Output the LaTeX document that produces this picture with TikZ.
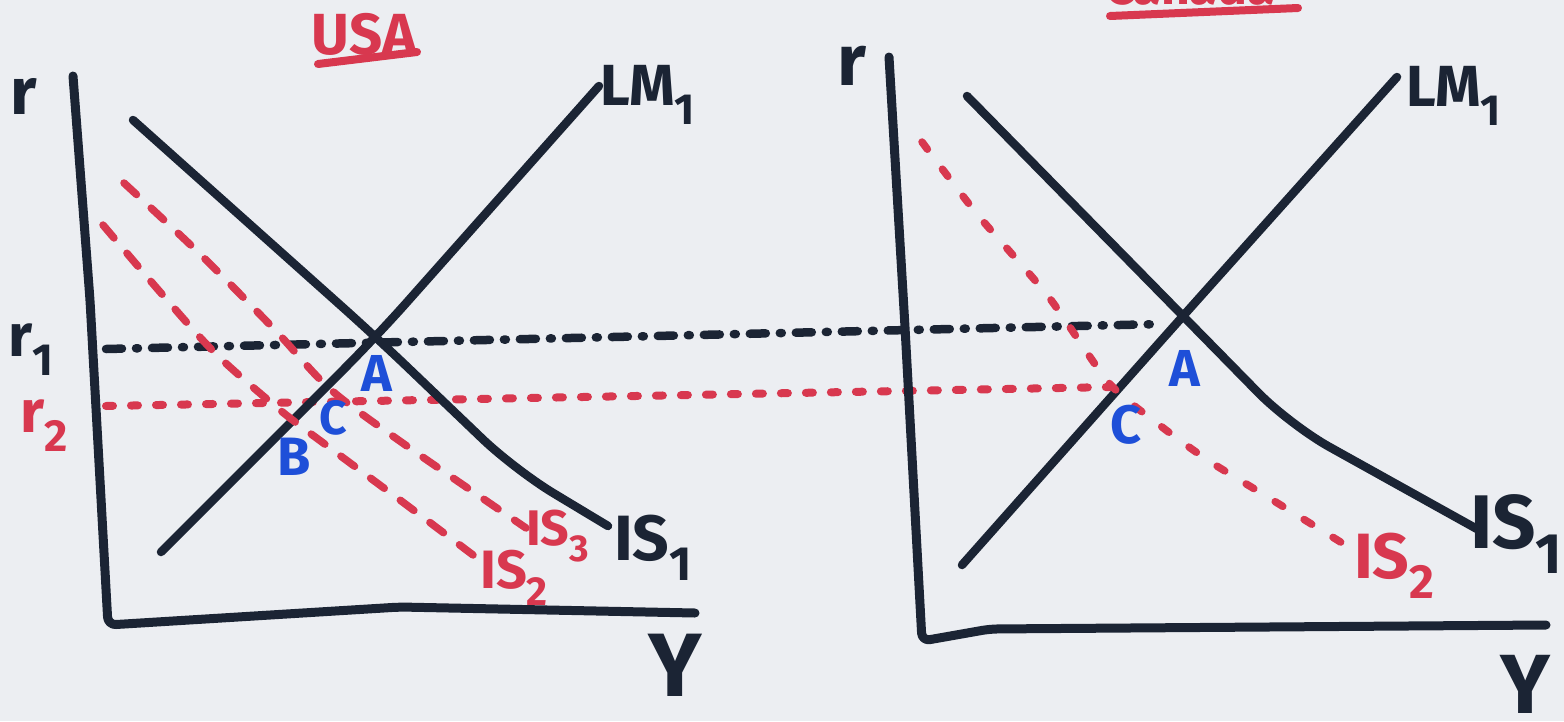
\documentclass[tikz,border=0pt]{standalone}
\usepackage{fontspec}
\setmainfont{Fira Sans}
\definecolor{ink}{HTML}{1B2434}
\definecolor{redink}{HTML}{D8384F}
\definecolor{blueink}{HTML}{1E4FD8}
\definecolor{paper}{HTML}{ECEEF2}
\newcommand\lsub[1]{\raisebox{-0.32em}{\scalebox{0.75}{#1}}}
\tikzset{
  lbl/.style={font=\fontsize{#1}{#1}\selectfont\bfseries, inner sep=0pt},
  axisline/.style={draw=ink, line width=9pt, line cap=round, line join=round, rounded corners=8pt},
  curveline/.style={draw=ink, line width=8.5pt, line cap=round, line join=round, rounded corners=45pt},
  rdash/.style={draw=redink, line width=7.5pt, line cap=round, dash pattern=on 17pt off 20pt},
  rdot/.style={draw=redink, line width=8pt, line cap=round, dash pattern=on 7pt off 18pt},
  rdashsmall/.style={draw=redink, line width=7.5pt, line cap=round, dash pattern=on 9pt off 25pt},
  bdash/.style={draw=ink, line width=8.5pt, line cap=round, dash pattern=on 16pt off 14pt on 2pt off 14pt},
  uline/.style={draw=redink, line width=8pt, line cap=round},
}
\begin{document}
\begin{tikzpicture}[x=1pt,y=-1pt]
\useasboundingbox (0,0) rectangle (1564,721);
\fill[paper] (0,0) rectangle (1564,721);
\begin{scope}
\clip (0,0) rectangle (1564,721);

% ---------- key coordinates ----------
\coordinate (AL) at (376,337);
\coordinate (AR) at (1183,316);
\coordinate (r1s) at (106,349);
\coordinate (r1e) at (1162,324);
\coordinate (r2s) at (106,406);
\coordinate (r2e) at (1112,387);

% ---------- horizontal interest-rate lines ----------
\draw[bdash] (r1s) -- (r1e);
\draw[rdot] (r2s) -- (r2e);

% ---------- left panel ----------
\draw[axisline] (73,76) -- (90,300) -- (108,625) -- (400,607) -- (695,613);
\draw[curveline] (161,552) -- (AL) -- (599,86);
\draw[curveline] (133,120) -- (AL) -- (515,470) -- (608,526);
\draw[rdash] plot[smooth, tension=0.5] coordinates {(124,183) (200,254) (275,330) (330,389) (404,444) (526,528)};
\draw[rdash] plot[smooth, tension=0.5] coordinates {(103,225) (161,293) (216,354) (280,410) (330,448) (404,503) (477,558)};

\node[lbl=66, ink] (rL) at (24,96) {r};
\node[lbl=60, ink] (r1L) at (31,350) {r\lsub{1}};
\node[lbl=60, redink] (r2L) at (44,426) {r\lsub{2}};
\node[lbl=58, ink, anchor=west] (LM1L) at (600,95) {LM\lsub{1}};
\node[lbl=64, ink, anchor=west] (IS1L) at (614,548) {IS\lsub{1}};
\node[lbl=50, redink, anchor=west] (IS3L) at (526,536) {IS\lsub{3}};
\node[lbl=54, redink, anchor=west] (IS2L) at (480,578) {IS\lsub{2}};
\node[lbl=52, blueink] (AlabL) at (377,373) {A};
\node[lbl=54, blueink] (BlabL) at (294,457) {B};
\node[lbl=48, blueink] (ClabL) at (333,418) {C};
\node[lbl=90, ink] (YL) at (675,665) {Y};
\node[lbl=58, redink] (usa) at (364,34) {USA};
\draw[uline] (318,64) -- (417,52);

% ---------- right panel ----------
\draw[axisline] (889,57) -- (905,327) -- (922,641) -- (990,629) -- (1546,625);
\draw[curveline] (962,565) -- (AR) -- (1397,77);
\draw[curveline] (967,96) -- (AR) -- (1290,425) -- (1477,529);
\draw[rdashsmall] plot[smooth, tension=0.4] coordinates {(922,142) (977,214) (1048,296) (1109,383) (1162,427) (1209,461) (1266,496) (1347,546)};

\node[lbl=72, ink] (rR) at (852,66) {r};
\node[lbl=58, ink, anchor=west] (LM1R) at (1406,96) {LM\lsub{1}};
\node[lbl=76, ink, anchor=west] (IS1R) at (1470,534) {IS\lsub{1}};
\node[lbl=64, redink, anchor=west] (IS2R) at (1354,566) {IS\lsub{2}};
\node[lbl=52, blueink] (AlabR) at (1185,368) {A};
\node[lbl=54, blueink] (ClabR) at (1126,425) {C};
\node[lbl=84, ink] (YR) at (1525,684) {Y};
\node[lbl=50, redink, anchor=base] (canada) at (1190,4) {Canada};
\draw[uline] (1110,16) -- (1298,8);
\end{scope}
\end{tikzpicture}
\end{document}
